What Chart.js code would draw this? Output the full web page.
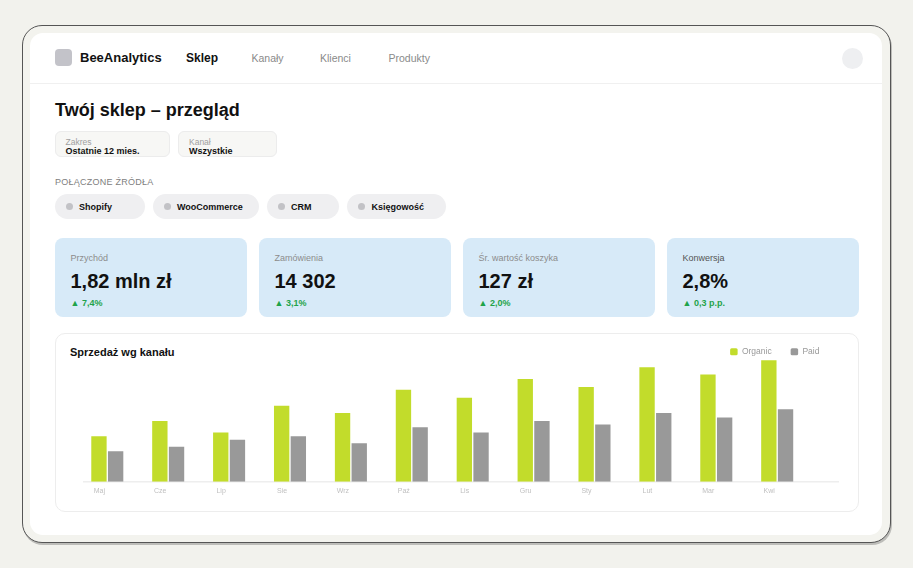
<!DOCTYPE html>
<html lang="pl">
<head>
<meta charset="utf-8">
<title>BeeAnalytics – Twój sklep</title>
<script src="https://cdn.jsdelivr.net/npm/chart.js@4.4.0/dist/chart.umd.min.js"></script>
<style>
  html, body { margin: 0; padding: 0; }
  body {
    width: 913px; height: 568px; overflow: hidden; position: relative;
    background: #f2f2ed;
    font-family: "Liberation Sans", Arial, sans-serif; color: #111;
  }
  .abs { position: absolute; white-space: nowrap; }
  .frame {
    left: 22px; top: 25px; width: 867px; height: 516px;
    border: 1.5px solid #555; border-radius: 20px; background: #f3f3ee;
    box-shadow: 1px 2px 0 rgba(0,0,0,0.22);
  }
  .panel { left: 30px; top: 33px; width: 852px; height: 502px; background: #fff; border-radius: 13px; }
  .sep { left: 30px; top: 83px; width: 852px; height: 1px; background: #f0f0f0; }
  .logo { left: 55px; top: 49px; width: 17px; height: 17px; border-radius: 4px; background: #c3c3c9; }
  .brand { left: 80px; top: 50px; height: 16px; line-height: 16px; font-size: 13px; font-weight: bold; }
  .nav { top: 50px; height: 16px; line-height: 16px; font-size: 10.5px; color: #8a8a8a; }
  .nav.active { font-size: 12px; font-weight: bold; color: #111; }
  .avatar { left: 842px; top: 47.5px; width: 21px; height: 21px; border-radius: 50%; background: #eeeff1; }
  h1 { margin: 0; left: 55px; top: 99px; height: 22px; line-height: 22px; font-size: 18px; font-weight: bold; }
  .filter {
    top: 131px; height: 26px; box-sizing: border-box; border: 1px solid #ececec;
    border-radius: 6px; background: #f7f7f5;
  }
  .filter .lbl { left: 10px; top: 4.5px; font-size: 8.5px; line-height: 10px; color: #a0a0a0; }
  .filter .val { left: 10px; top: 13.5px; font-size: 9px; line-height: 10px; font-weight: bold; color: #111; }
  .src-title { left: 55px; top: 177px; height: 11px; line-height: 11px; font-size: 9px; color: #808080; letter-spacing: 0.25px; }
  .chip { top: 194px; height: 25px; border-radius: 12.5px; background: #efeff1; }
  .chip .dot { left: 11px; top: 9px; width: 7px; height: 7px; border-radius: 50%; background: #c2c2c6; }
  .chip .txt { left: 24.5px; top: 7.5px; line-height: 10px; font-size: 9px; font-weight: bold; color: #111; }
  .kpi { top: 238px; width: 192px; height: 79px; border-radius: 8px; background: #d7eaf8; }
  .kpi .lbl { left: 15.5px; top: 14px; line-height: 12px; font-size: 9px; color: #8c8c8c; }
  .kpi .lbl.dark { color: #555; }
  .kpi .val { left: 15.5px; top: 31px; line-height: 24px; font-size: 20px; font-weight: bold; color: #111; }
  .kpi .delta { left: 15.5px; top: 60px; line-height: 10px; font-size: 9px; font-weight: bold; color: #1fa34a; }
  .card {
    left: 54.5px; top: 333px; width: 804px; height: 179px; box-sizing: border-box;
    border: 1px solid #ededed; border-radius: 10px; background: #fff;
  }
  .card-title { left: 70px; top: 345px; height: 14px; line-height: 14px; font-size: 11px; font-weight: bold; }
  #salesChart { position: absolute; left: 55px; top: 320px; }
</style>
</head>
<body>
<div class="abs frame"></div>
<div class="abs panel"></div>
<div class="abs sep"></div>

<div class="abs logo"></div>
<div class="abs brand">BeeAnalytics</div>
<div class="abs nav active" style="left:186px">Sklep</div>
<div class="abs nav" style="left:251.5px">Kanały</div>
<div class="abs nav" style="left:320px">Klienci</div>
<div class="abs nav" style="left:388.5px">Produkty</div>
<div class="abs avatar"></div>

<h1 class="abs">Twój sklep – przegląd</h1>

<div class="abs filter" style="left:54.5px;width:115px"><div class="abs lbl">Zakres</div><div class="abs val">Ostatnie 12 mies.</div></div>
<div class="abs filter" style="left:178px;width:99px"><div class="abs lbl">Kanał</div><div class="abs val">Wszystkie</div></div>

<div class="abs src-title">POŁĄCZONE ŹRÓDŁA</div>
<div class="abs chip" style="left:54.5px;width:90px"><div class="abs dot"></div><div class="abs txt">Shopify</div></div>
<div class="abs chip" style="left:152.5px;width:106px"><div class="abs dot"></div><div class="abs txt">WooCommerce</div></div>
<div class="abs chip" style="left:266.5px;width:72.5px"><div class="abs dot"></div><div class="abs txt">CRM</div></div>
<div class="abs chip" style="left:347px;width:99px"><div class="abs dot"></div><div class="abs txt">Księgowość</div></div>

<div class="abs kpi" style="left:55px"><div class="abs lbl">Przychód</div><div class="abs val">1,82 mln zł</div><div class="abs delta">▲ 7,4%</div></div>
<div class="abs kpi" style="left:259px"><div class="abs lbl">Zamówienia</div><div class="abs val">14 302</div><div class="abs delta">▲ 3,1%</div></div>
<div class="abs kpi" style="left:463px"><div class="abs lbl">Śr. wartość koszyka</div><div class="abs val">127 zł</div><div class="abs delta">▲ 2,0%</div></div>
<div class="abs kpi" style="left:667px"><div class="abs lbl dark">Konwersja</div><div class="abs val">2,8%</div><div class="abs delta">▲ 0,3 p.p.</div></div>

<div class="abs card"></div>
<div class="abs card-title">Sprzedaż wg kanału</div>
<canvas id="salesChart" width="803" height="191"></canvas>

<script>
// Sprzedaż miesięczna wg kanału (tys. zł)
const months = ['Maj', 'Cze', 'Lip', 'Sie', 'Wrz', 'Paź', 'Lis', 'Gru', 'Sty', 'Lut', 'Mar', 'Kwi'];
const organicSales = [51, 68, 55, 85, 77, 103, 94, 115, 106, 128, 120, 136];
const paidSales = [34, 39, 47, 51, 43, 61, 55, 68, 64, 77, 72, 81];
const yMax = 139;

const fontFamily = '"Liberation Sans", Arial, sans-serif';

// month index -> point, so the x axis can run a bit past the last month
const toPoints = values => values.map((v, i) => ({ x: i, y: v }));

const salesChart = new Chart(document.getElementById('salesChart'), {
    type: 'bar',
    data: {
        datasets: [
            { label: 'Organic', data: toPoints(organicSales), backgroundColor: '#c2dc2b', categoryPercentage: 0.548, barPercentage: 0.92 },
            { label: 'Paid', data: toPoints(paidSales), backgroundColor: '#999999', categoryPercentage: 0.548, barPercentage: 0.92 }
        ]
    },
    options: {
        responsive: false,
        animation: false,
        layout: { padding: { left: 29, right: 19.6, top: 8.55, bottom: 10.9 } },
        plugins: {
            tooltip: { enabled: false },
            legend: {
                position: 'top',
                align: 'end',
                maxHeight: 29,
                labels: {
                    boxWidth: 7.5,
                    boxHeight: 7,
                    padding: 19,
                    color: '#999999',
                    useBorderRadius: true,
                    borderRadius: 1.5,
                    font: { size: 8.5, family: fontFamily }
                }
            }
        },
        scales: {
            x: {
                type: 'linear',
                offset: false,
                min: -0.3826,
                max: 12.005,
                grid: { display: false, drawTicks: false },
                border: { display: true, color: '#eeeeee', width: 1.5 },
                afterBuildTicks(scale) { scale.ticks = months.map((m, i) => ({ value: i })); },
                ticks: {
                    color: '#c0c0c0',
                    padding: 5,
                    labelOffset: -8,
                    font: { size: 7, family: fontFamily },
                    callback: value => months[value]
                }
            },
            y: {
                display: false,
                min: 0,
                max: yMax
            }
        }
    }
});
</script>
</body>
</html>
